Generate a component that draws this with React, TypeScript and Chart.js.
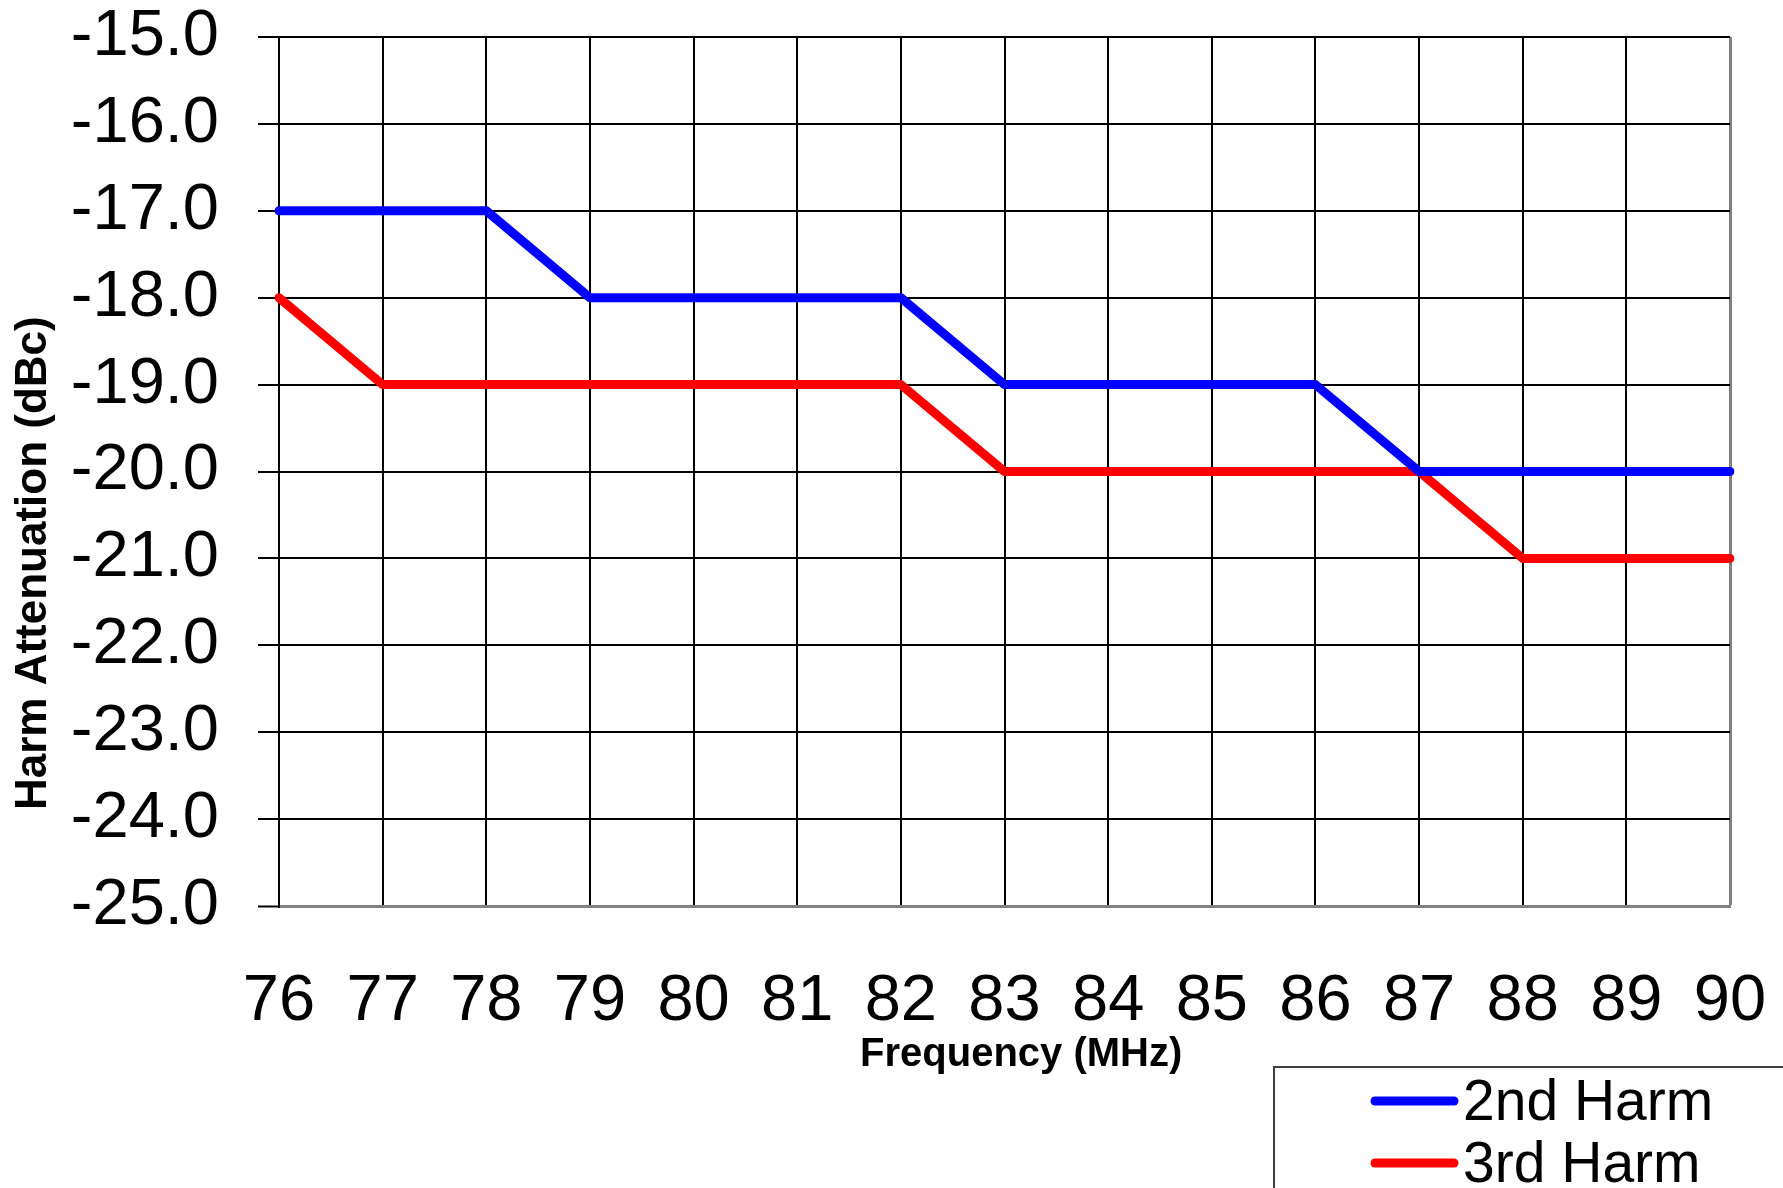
import React, { useEffect, useRef } from "react";
import { Chart, registerables } from "chart.js";

Chart.register(...registerables);

// ---- data ----
const frequencies = ["76", "77", "78", "79", "80", "81", "82", "83", "84", "85", "86", "87", "88", "89", "90"];
const harm2nd = [-17, -17, -17, -18, -18, -18, -18, -19, -19, -19, -19, -20, -20, -20, -20];
const harm3rd = [-18, -19, -19, -19, -19, -19, -19, -20, -20, -20, -20, -20, -21, -21, -21];
const seriesLabels = ["2nd Harm", "3rd Harm"];
const seriesColors = ["#0000FF", "#FF0000"];
const yMin = -25;
const yMax = -15;
const yStep = 1;
const xTitle = "Frequency (MHz)";
const yTitle = "Harm Attenuation (dBc)";

const SANS = "'Liberation Sans', Arial, sans-serif";

const boxLegend = {
  id: "boxLegend",
  afterDraw(chart: any) {
    const { ctx, width, height } = chart;
    const boxLeft = width - 509;
    const boxTop = height - 121;
    ctx.save();
    ctx.strokeStyle = "#404040";
    ctx.lineWidth = 2;
    ctx.strokeRect(boxLeft, boxTop, width - boxLeft + 10, height - boxTop + 10);
    ctx.font = `57px ${SANS}`;
    ctx.textBaseline = "alphabetic";
    ctx.textAlign = "left";
    chart.data.datasets.forEach((ds: any, i: number) => {
      const y = boxTop + 34 + i * 62;
      ctx.strokeStyle = ds.borderColor;
      ctx.lineWidth = 9;
      ctx.lineCap = "round";
      ctx.beginPath();
      ctx.moveTo(boxLeft + 101, y);
      ctx.lineTo(boxLeft + 180, y);
      ctx.stroke();
      ctx.fillStyle = "#000";
      ctx.fillText(ds.label, boxLeft + 189, y + 19);
    });
    ctx.restore();
  },
};

export default function App() {
  const canvasRef = useRef<HTMLCanvasElement | null>(null);

  useEffect(() => {
    if (!canvasRef.current) return;
    const chart = new Chart(canvasRef.current, {
      type: "line",
      data: {
        labels: frequencies,
        datasets: [
          {
            label: seriesLabels[0],
            data: harm2nd,
            borderColor: seriesColors[0],
            backgroundColor: seriesColors[0],
            borderWidth: 9,
            pointRadius: 0,
            tension: 0,
            borderCapStyle: "round",
            borderJoinStyle: "round",
          },
          {
            label: seriesLabels[1],
            data: harm3rd,
            borderColor: seriesColors[1],
            backgroundColor: seriesColors[1],
            borderWidth: 9,
            pointRadius: 0,
            tension: 0,
            borderCapStyle: "round",
            borderJoinStyle: "round",
          },
        ],
      },
      options: {
        responsive: false,
        animation: false,
        layout: { padding: { top: 37, right: 53, bottom: 0, left: 0 } },
        plugins: {
          legend: { display: false },
          tooltip: { enabled: false },
        },
        scales: {
          x: {
            type: "category",
            offset: false,
            grid: {
              color: (c: any) => (c.index === frequencies.length - 1 ? "#808080" : "#000000"),
              lineWidth: (c: any) => (c.index === frequencies.length - 1 ? 3 : 2),
              drawTicks: false,
            },
            border: { display: true, color: "#808080", width: 3 },
            ticks: {
              font: { family: SANS, size: 65 },
              color: "#000",
              padding: 57,
              maxRotation: 0,
              minRotation: 0,
              autoSkip: false,
            },
            title: {
              display: true,
              text: "   " + xTitle,
              color: "#000",
              font: { family: SANS, size: 40, weight: "bold" },
              padding: { top: 0, bottom: 109 },
            },
            afterFit: (s: any) => {
              s.height = 282;
              s.paddingLeft = 0;
              s.paddingRight = 0;
            },
          },
          y: {
            min: yMin,
            max: yMax,
            ticks: {
              stepSize: yStep,
              autoSkip: false,
              callback: (v: any) => Number(v).toFixed(1),
              font: { family: SANS, size: 65 },
              color: "#000",
              padding: 39,
            },
            grid: {
              color: (c: any) => (c.tick && c.tick.value === yMin ? "#808080" : "#000000"),
              lineWidth: (c: any) => (c.tick && c.tick.value === yMin ? 3 : 2),
              tickColor: "#000000",
              tickWidth: 2,
              tickLength: 21,
              drawTicks: true,
            },
            border: { display: true, color: "#000", width: 2 },
            title: {
              display: true,
              text: yTitle + " ".repeat(15),
              color: "#000",
              font: { family: SANS, size: 44, weight: "bold" },
              padding: { top: 7, bottom: 0 },
            },
            afterFit: (s: any) => {
              s.width = 279;
              s.paddingTop = 0;
              s.paddingBottom = 0;
            },
          },
        },
      },
      plugins: [boxLegend],
    } as any);
    return () => chart.destroy();
  }, []);

  return (
    <div style={{ position: "absolute", left: 0, top: 0, width: 1783, height: 1188, background: "#fff" }}>
      <canvas ref={canvasRef} width={1783} height={1188} style={{ display: "block" }} />
    </div>
  );
}
